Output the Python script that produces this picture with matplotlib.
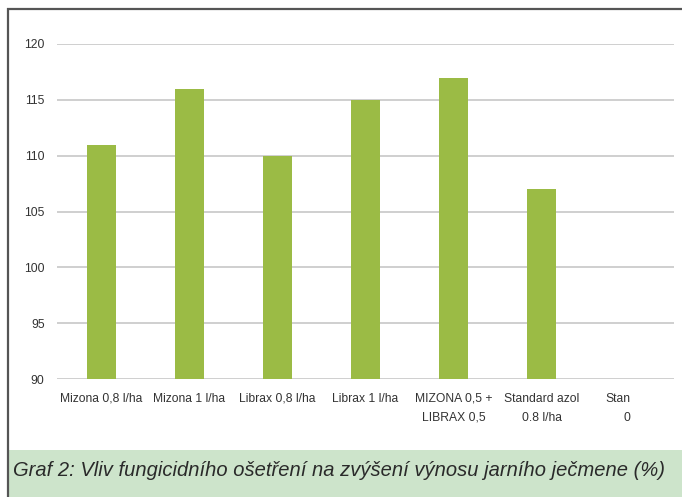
import matplotlib
matplotlib.use("Agg")
import matplotlib.pyplot as plt
from matplotlib.patches import Rectangle
from matplotlib.lines import Line2D

categories = ["Mizona 0,8 l/ha", "Mizona 1 l/ha", "Librax 0,8 l/ha", "Librax 1 l/ha",
              "MIZONA 0,5 +\nLIBRAX 0,5", "Standard azol\n0.8 l/ha", "Stan\n0"]
values = [111, 116, 110, 115, 117, 107, 0]
yticks = [90, 95, 100, 105, 110, 115, 120]
caption = "Graf 2: Vliv fungicidního ošetření na zvýšení výnosu jarního ječmene (%)"

W, H = 682, 497
fig = plt.figure(figsize=(W / 100, H / 100), dpi=100)

def fx(px):
    return px / W

def fy(py):
    return 1 - py / H

# caption band and frame
fig.patches.append(Rectangle((fx(9), 0), 1 - fx(9), fy(450), transform=fig.transFigure,
                             facecolor="#cde4cb", edgecolor="none", zorder=0))
fig.lines.append(Line2D([fx(7.5), fx(7.5)], [0, fy(8)], transform=fig.transFigure,
                        color="#555555", lw=1.6, solid_capstyle="butt"))
fig.lines.append(Line2D([fx(7), 1], [fy(8.5), fy(8.5)], transform=fig.transFigure,
                        color="#555555", lw=1.6, solid_capstyle="butt"))

ax = fig.add_axes([fx(57), fy(379), fx(674) - fx(57), fy(44) - fy(379)])
x = range(len(categories))
ax.bar(x, values, width=0.33, color="#9bbb45", zorder=3)
ax.set_xlim(-0.5, len(categories) - 0.5)
ax.set_ylim(90, 120)
ax.set_yticks(yticks)
ax.grid(axis="y", color="#cfcfcf", lw=1.4, zorder=0)
for s in ax.spines.values():
    s.set_visible(False)
ax.tick_params(length=0)
ax.tick_params(axis="y", pad=9, labelsize=8.7, labelcolor="#333333")
ax.tick_params(axis="x", pad=10, labelsize=8.7, labelcolor="#333333")
ax.set_xticks(list(x))
ax.set_xticklabels(categories, fontfamily="Liberation Sans", linespacing=1.75)
for lab in ax.get_yticklabels():
    lab.set_fontfamily("Liberation Sans")
last = ax.get_xticklabels()[-1]
last.set_ha("right")
last.set_multialignment("right")
last.set_x(6.02)

fig.text(fx(339), fy(471), caption, ha="center", va="center", fontsize=14.5,
         style="italic", color="#2a2a2a",
         family=["Liberation Sans Narrow", "Liberation Sans", "DejaVu Sans"])

fig.savefig("out.png", dpi=100)
